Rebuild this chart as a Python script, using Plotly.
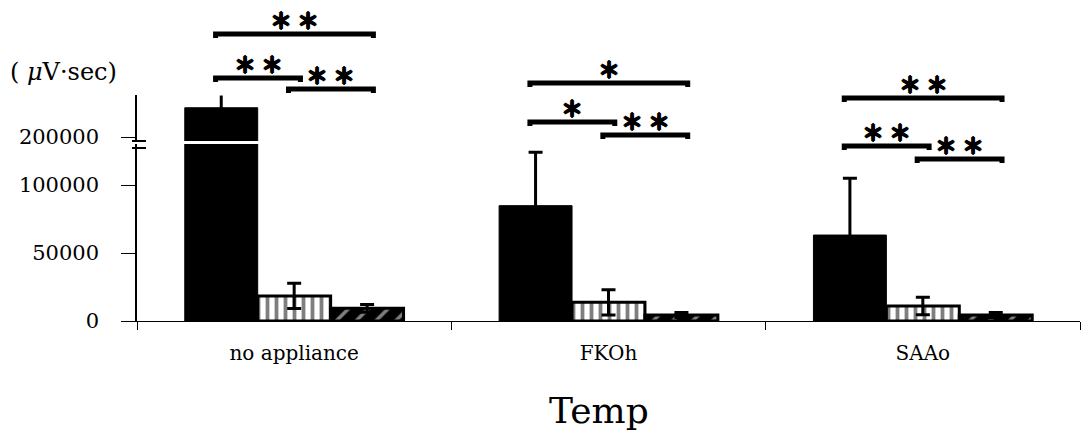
import plotly.graph_objects as go

# ---------------- data ----------------
categories = ["no appliance", "FKOh", "SAAo"]
black_vals = [221500, 84800, 63200]
black_err = [9000, 39200, 41700]
vert_vals = [18400, 13700, 11000]
vert_err = [9300, 9300, 6400]
diag_vals = [9300, 4400, 4400]
diag_err = [2800, 1800, 1800]
lower_ticks = [0, 50000, 100000]
upper_ticks = [200000]
lower_range = [0, 130150]
upper_range = [197060, 230880]

# significance brackets: group index, first bar, second bar, label
sig_group = [0, 0, 0, 1, 1, 1, 2, 2, 2]
sig_from = [0, 0, 1, 0, 0, 1, 0, 0, 1]
sig_to = [2, 1, 2, 2, 1, 2, 2, 1, 2]
sig_label = ["＊ ＊", "＊ ＊", "＊ ＊", "＊", "＊", "＊ ＊", "＊ ＊", "＊ ＊", "＊ ＊"]
# vertical level of each bracket (pixels from top of image)
sig_level_px = [34, 78, 89, 83, 122, 135, 98, 146, 159]

# ---------------- layout geometry ----------------
W, H = 1083, 439
ML, MR, MT, MB = 137, 3, 95, 118
plot_h = H - MT - MB
plot_w = W - ML - MR
bar_w = 0.232
offsets = [-1.5 * bar_w, -0.5 * bar_w, 0.5 * bar_w]
serif = "DejaVu Serif"


def py2paper(py):
    return (H - MB - py) / plot_h


def px2paper(px):
    return (px - ML) / plot_w


lower_dom = [0, py2paper(144)]
upper_dom = [py2paper(141), 1]

fig = go.Figure()

err_style = dict(type="data", color="black", thickness=3)

# black bars (lower axis)
fig.add_trace(go.Bar(
    x=categories, y=black_vals, width=bar_w, offset=offsets[0],
    marker=dict(color="black", line=dict(color="black", width=1)),
    error_y=dict(array=black_err, width=7, **err_style),
    xaxis="x", yaxis="y", showlegend=False,
))
# vertical striped bars
fig.add_trace(go.Bar(
    x=categories, y=vert_vals, width=bar_w, offset=offsets[1],
    marker=dict(color="white", line=dict(color="black", width=3),
                pattern=dict(shape="|", fgcolor="black", bgcolor="white",
                             size=9, solidity=0.42)),
    error_y=dict(array=vert_err, width=7, **err_style),
    xaxis="x", yaxis="y", showlegend=False,
))
# diagonal striped bars
fig.add_trace(go.Bar(
    x=categories, y=diag_vals, width=bar_w, offset=offsets[2],
    marker=dict(color="black", line=dict(color="black", width=3),
                pattern=dict(shape="/", fgcolor="white", bgcolor="black",
                             size=14, solidity=0.25)),
    error_y=dict(array=diag_err, width=7, **err_style),
    xaxis="x", yaxis="y", showlegend=False,
))
# black bars again on the upper (broken) axis
fig.add_trace(go.Bar(
    x=categories, y=black_vals, width=bar_w, offset=offsets[0],
    marker=dict(color="black", line=dict(color="black", width=1)),
    error_y=dict(array=black_err, width=0, **err_style),
    xaxis="x", yaxis="y2", showlegend=False,
))

tickfont = dict(family=serif, size=21, color="black")

fig.update_layout(
    width=W, height=H,
    margin=dict(l=ML, r=MR, t=MT, b=MB, autoexpand=False),
    paper_bgcolor="white", plot_bgcolor="white",
    barmode="overlay",
    xaxis=dict(
        type="category", range=[-0.5, 2.5], showline=True, linecolor="black",
        linewidth=1, ticks="outside", tickson="boundaries", ticklen=8,
        tickcolor="black", tickfont=dict(family=serif, size=20, color="black"),
        ticklabelstandoff=14, showgrid=False, zeroline=False,
    ),
    yaxis=dict(
        domain=lower_dom, range=lower_range, tickvals=lower_ticks,
        ticktext=[str(v) for v in lower_ticks],
        showline=True, linecolor="black", linewidth=1.5, ticks="outside",
        ticklen=14, tickcolor="black", tickfont=tickfont,
        ticklabelstandoff=18, showgrid=False, zeroline=False,
    ),
    yaxis2=dict(
        domain=upper_dom, range=upper_range, tickvals=upper_ticks,
        ticktext=[str(v) for v in upper_ticks], anchor="x",
        showline=True, linecolor="black", linewidth=1.5, ticks="outside",
        ticklen=14, tickcolor="black", tickfont=tickfont,
        ticklabelstandoff=18, showgrid=False, zeroline=False,
    ),
)

shapes = []
# axis-break marks
for py in (141, 148):
    shapes.append(dict(type="line", xref="paper", yref="paper",
                       x0=px2paper(132), x1=px2paper(146),
                       y0=py2paper(py), y1=py2paper(py),
                       line=dict(color="black", width=2)))

annotations = []
for g, a, b, lab, lvl in zip(sig_group, sig_from, sig_to, sig_label, sig_level_px):
    x0 = g + offsets[a] + bar_w / 2 - 0.018
    x1 = g + offsets[b] + bar_w / 2 + 0.02
    y = py2paper(lvl)
    yd = py2paper(lvl + 4)
    shapes.append(dict(type="path", xref="x", yref="paper",
                       path=f"M {x0},{yd} L {x0},{y} L {x1},{y} L {x1},{yd}",
                       line=dict(color="black", width=5)))
    annotations.append(dict(x=(x0 + x1) / 2, y=y, xref="x", yref="paper",
                            text=f"<b>{lab}</b>", showarrow=False,
                            yanchor="middle", yshift=15,
                            font=dict(family="Noto Sans CJK JP", size=22,
                                      color="black",
                                      shadow="1px 0px 0px black, -1px 0px 0px black, 0px 1px 0px black, 0px -1px 0px black")))

annotations.append(dict(x=px2paper(8), y=py2paper(72), xref="paper", yref="paper",
                        text="( <i>μ</i>V·sec)", showarrow=False,
                        xanchor="left", yanchor="middle",
                        font=dict(family=serif, size=24, color="black")))
annotations.append(dict(x=px2paper(599), y=py2paper(410), xref="paper", yref="paper",
                        text="Temp", showarrow=False,
                        xanchor="center", yanchor="middle",
                        font=dict(family=serif, size=36, color="black")))

fig.update_layout(shapes=shapes, annotations=annotations)

fig.write_html("out.html",
               config={"displayModeBar": False},
               post_script="document.body.style.margin='0';")
